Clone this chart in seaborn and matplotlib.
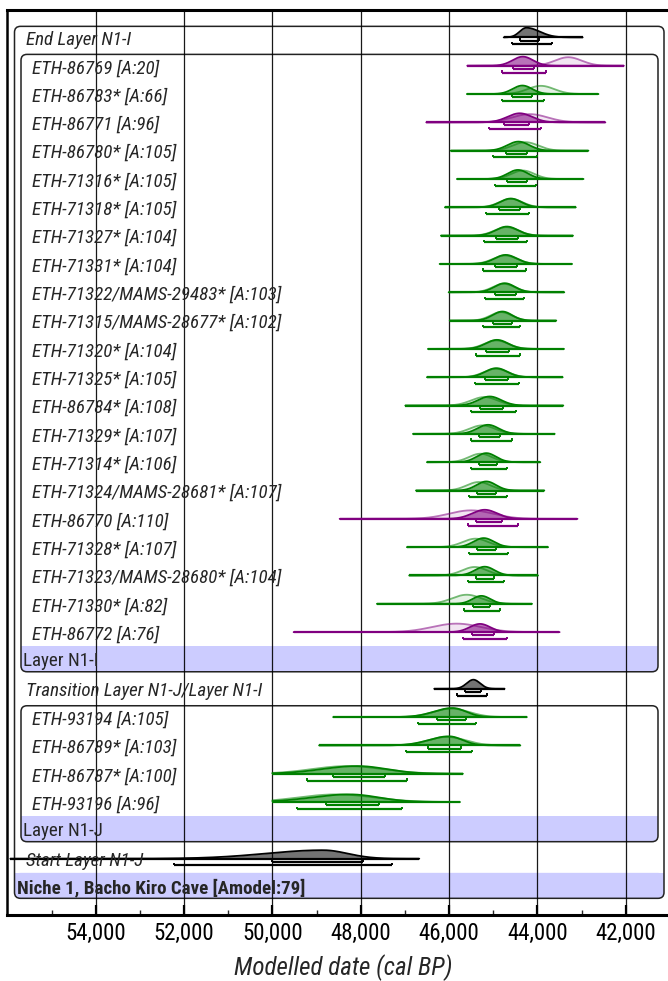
import numpy as np
import pandas as pd
import matplotlib
matplotlib.use("Agg")
import matplotlib.pyplot as plt
import matplotlib.transforms as mtransforms
from matplotlib import font_manager as fm
from matplotlib.patches import FancyBboxPatch, Rectangle
from matplotlib.ticker import MultipleLocator, FixedLocator, FuncFormatter
import seaborn as sns

# ---------------- data (years cal BP) ----------------
labels = [
    "End Layer N1-I",
    "ETH-86769 [A:20]", "ETH-86783* [A:66]", "ETH-86771 [A:96]", "ETH-86780* [A:105]",
    "ETH-71316* [A:105]", "ETH-71318* [A:105]", "ETH-71327* [A:104]", "ETH-71331* [A:104]",
    "ETH-71322/MAMS-29483* [A:103]", "ETH-71315/MAMS-28677* [A:102]", "ETH-71320* [A:104]",
    "ETH-71325* [A:105]", "ETH-86784* [A:108]", "ETH-71329* [A:107]", "ETH-71314* [A:106]",
    "ETH-71324/MAMS-28681* [A:107]", "ETH-86770 [A:110]", "ETH-71328* [A:107]",
    "ETH-71323/MAMS-28680* [A:104]", "ETH-71330* [A:82]", "ETH-86772 [A:76]",
    "Layer N1-I",
    "Transition Layer N1-J/Layer N1-I",
    "ETH-93194 [A:105]", "ETH-86789* [A:103]", "ETH-86787* [A:100]", "ETH-93196 [A:96]",
    "Layer N1-J",
    "Start Layer N1-J",
    "Niche 1, Bacho Kiro Cave [Amodel:79]",
]
row_kind = (["boundary"] + ["date"] * 21 + ["band"] + ["boundary"] + ["date"] * 4
            + ["band"] + ["boundary"] + ["outerband"])
row_colour = (["k", "p", "g", "p"] + ["g"] * 13 + ["p", "g", "g", "g", "p"] + [None]
              + ["k", "g", "g", "g", "g", None, "k", None])

nan = np.nan
post_mu = [44250, 44330, 44340, 44400, 44430, 44440, 44604, 44690, 44718, 44740, 44794,
           44915, 44930, 45080, 45118, 45157, 45157, 45193, 45216, 45193, 45268, 45300,
           nan, 45449, 45920, 46000, 48070, 48250, nan, 48850, nan]
post_sd_old = [150, 230, 220, 280, 250, 230, 240, 250, 250, 230, 220,
               250, 250, 260, 240, 220, 220, 280, 230, 220, 200, 230,
               nan, 150, 420, 450, 800, 850, nan, 1300, nan]
post_sd_young = [300, 230, 220, 280, 250, 230, 240, 250, 250, 230, 220,
                 250, 250, 260, 240, 220, 220, 280, 230, 220, 200, 230,
                 nan, 150, 300, 300, 650, 650, nan, 550, nan]
post_peak = [0.34, 0.32, 0.30, 0.32, 0.32, 0.32, 0.31, 0.32, 0.32, 0.32, 0.32,
             0.32, 0.32, 0.32, 0.32, 0.32, 0.32, 0.32, 0.32, 0.31, 0.28, 0.29,
             nan, 0.32, 0.32, 0.32, 0.27, 0.27, nan, 0.30, nan]
lik_mu = [nan, 43300, 43920, 44170, 44270, 44330, 44600, 44700, 44730, 44760, 44820,
          44930, 44940, 45200, 45250, 45290, 45330, 45500, 45400, 45420, 45600, 45830,
          nan, nan, 45950, 46050, 48300, 48550, nan, nan, nan]
lik_sd = [nan, 300, 300, 400, 290, 260, 260, 270, 270, 250, 240,
          270, 270, 300, 290, 260, 270, 500, 290, 280, 330, 550,
          nan, nan, 400, 420, 800, 850, nan, nan, nan]
lik_peak = [nan, 0.30, 0.29, 0.29, 0.30, 0.30, 0.30, 0.30, 0.30, 0.30, 0.30,
            0.30, 0.30, 0.30, 0.30, 0.30, 0.30, 0.30, 0.30, 0.30, 0.32, 0.30,
            nan, nan, 0.30, 0.30, 0.27, 0.27, nan, nan, nan]
line_old = [44763, 45585, 45594, 46513, 45963, 45820, 46092, 46183, 46212, 46008, 45985,
            46476, 46499, 46988, 46815, 46499, 46747, 48476, 46952, 46900, 47631, 49518,
            nan, 46336, 48621, 48940, 50000, 50000, nan, 55933, nan]
line_young = [42975, 42046, 42619, 42462, 42846, 42958, 43133, 43196, 43217, 43392, 43573,
              43400, 43430, 43414, 43611, 43934, 43844, 43094, 43760, 43988, 44124, 43500,
              nan, 44743, 44242, 44387, 45690, 45755, nan, 46674, nan]
r68_old = [44400, 44552, 44568, 44756, 44704, 44695, 44876, 44944, 44966, 44959, 45012,
           45166, 45189, 45307, 45330, 45330, 45360, 45381, 45366, 45397, 45460, 45472,
           nan, 45632, 46269, 46483, 48621, 48793, nan, 50002, nan]
r68_young = [43965, 44077, 44115, 44190, 44228, 44243, 44394, 44439, 44455, 44491, 44568,
             44645, 44675, 44781, 44854, 44915, 44930, 44794, 44930, 44983, 45080, 44990,
             nan, 45272, 45612, 45729, 47444, 47588, nan, 47957, nan]
r95_old = [44575, 44800, 44794, 45102, 44995, 44953, 45158, 45212, 45231, 45189, 45231,
           45384, 45407, 45504, 45510, 45510, 45549, 45573, 45555, 45573, 45663, 45685,
           nan, 45825, 46704, 46967, 49209, 49436, nan, 52218, nan]
r95_young = [43660, 43797, 43857, 43925, 44000, 44024, 44184, 44235, 44250, 44303, 44386,
             44400, 44423, 44491, 44575, 44690, 44681, 44439, 44666, 44762, 44854, 44681,
             nan, 45130, 45401, 45487, 46943, 47061, nan, 47298, nan]

major_ticks = [54000, 52000, 50000, 48000, 46000, 44000, 42000]
minor_ticks = [55000, 53000, 51000, 49000, 47000, 45000, 43000, 41000]
x_label = "Modelled date (cal BP)"

# ---------------- style ----------------
sns.set_theme(style="white")
names = {f.name for f in fm.fontManager.ttflist}
fam = [f for f in ["Liberation Sans Narrow", "Roboto Condensed", "DejaVu Sans"] if f in names]
plt.rcParams["font.family"] = fam + ["DejaVu Sans"]

COL = {"g": "#008000", "p": "#800080", "k": "#000000"}
FILL_A = {"g": 0.55, "p": 0.55, "k": 0.55}
BAND = "#ccccff"

W, H = 668, 981
fig = plt.figure(figsize=(W / 100, H / 100), dpi=100)
ax_left_px, ax_w_px = 7.4, 671.3
ax_top_px, ax_bot_px = 9.5, 915.0
ax = fig.add_axes([ax_left_px / W, 1 - ax_bot_px / H, ax_w_px / W, (ax_bot_px - ax_top_px) / H])

n = len(labels)
rows = np.arange(n)
row0_px, row_step = 37.4, 28.32
y_top = (ax_top_px - row0_px) / row_step
y_bot = (ax_bot_px - row0_px) / row_step


def px2ax(px):
    return (px - ax_left_px) / ax_w_px


# ---------------- curves ----------------
post_records, lik_records = [], []
for i in rows:
    c = row_colour[i]
    if c is None:
        continue
    xs = np.linspace(line_old[i], line_young[i], 500)
    mu = post_mu[i]
    sd = np.where(xs > mu, post_sd_old[i], post_sd_young[i])
    yv = i - post_peak[i] * np.exp(-0.5 * ((xs - mu) / sd) ** 2)
    ax.fill_between(xs, i, yv, color=COL[c], alpha=FILL_A[c], lw=0, zorder=2)
    for a, b in zip(xs, yv):
        post_records.append((a, b, i, c))
    if not np.isnan(lik_mu[i]):
        ly = i - lik_peak[i] * np.exp(-0.5 * ((xs - lik_mu[i]) / lik_sd[i]) ** 2)
        ax.fill_between(xs, i, ly, color=COL[c], alpha=0.10, lw=0, zorder=2.2)
        for a, b in zip(xs, ly):
            lik_records.append((a, b, i, c))

post_df = pd.DataFrame(post_records, columns=["x", "y", "row", "col"])
lik_df = pd.DataFrame(lik_records, columns=["x", "y", "row", "col"])
sns.lineplot(data=post_df, x="x", y="y", units="row", estimator=None, sort=False,
             hue="col", palette=COL, legend=False, lw=1.3, ax=ax, zorder=2.1)
sns.lineplot(data=lik_df, x="x", y="y", units="row", estimator=None, sort=False,
             hue="col", palette=COL, legend=False, lw=1.3, alpha=0.55, ax=ax, zorder=2.3)

# baselines and ranges
for i in rows:
    c = row_colour[i]
    if c is None:
        continue
    col = COL[c]
    ax.hlines(i, line_old[i], line_young[i], color=col, lw=1.6, zorder=2.4)
    for lo, hi, off in ((r68_old[i], r68_young[i], 0.11), (r95_old[i], r95_young[i], 0.24)):
        ax.hlines(i + off, lo, hi, color=col, lw=1.6, zorder=2.4)
        ax.vlines([lo, hi], i + off - 0.08, i + off, color=col, lw=1.4, zorder=2.4)

# ---------------- boxes and bands ----------------
btr = mtransforms.blended_transform_factory(ax.transAxes, ax.transData)
r_x = 6 / ax_w_px
asp = (6 / row_step) / r_x


def rbox(x0px, x1px, y0, y1, face="none", z=1.0, lw=1.1):
    p = FancyBboxPatch((px2ax(x0px), y0), px2ax(x1px) - px2ax(x0px), y1 - y0,
                       boxstyle=f"round,pad=0,rounding_size={r_x}", mutation_aspect=asp,
                       transform=btr, facecolor=face, edgecolor="#222222", lw=lw, zorder=z,
                       clip_on=False)
    ax.add_patch(p)


def band(x0px, x1px, yc):
    y0, y1 = yc - 0.5, yc + 0.4
    p = FancyBboxPatch((px2ax(x0px), y0), px2ax(x1px) - px2ax(x0px), y1 - y0,
                       boxstyle=f"round,pad=0,rounding_size={r_x}", mutation_aspect=asp,
                       transform=btr, facecolor=BAND, edgecolor="none", zorder=0.8)
    ax.add_patch(p)
    ax.add_patch(Rectangle((px2ax(x0px), y0), px2ax(x1px) - px2ax(x0px), 0.45,
                           transform=btr, facecolor=BAND, edgecolor="none", zorder=0.8))


for i in rows:
    if row_kind[i] == "band":
        band(21, 658, i)
    elif row_kind[i] == "outerband":
        band(14.5, 664, i)

rbox(14.5, 664, -0.39, 30.4)
rbox(21, 658, 0.6, 22.4)
rbox(21, 658, 23.6, 28.4)

# ---------------- labels ----------------
FS = 13.7
for i in rows:
    k = row_kind[i]
    if k == "boundary":
        ax.text(px2ax(25.5), i + 0.09, labels[i], transform=btr, ha="left", va="center",
                fontsize=FS, style="italic", zorder=3)
    elif k == "date":
        ax.text(px2ax(32), i + 0.09, labels[i], transform=btr, ha="left", va="center",
                fontsize=FS, style="italic", zorder=3)
    elif k == "band":
        ax.text(px2ax(23), i + 0.03, labels[i], transform=btr, ha="left", va="center",
                fontsize=FS, zorder=3)
    else:
        ax.text(px2ax(17), i + 0.03, labels[i], transform=btr, ha="left", va="center",
                fontsize=FS, fontweight="bold", zorder=3)

# ---------------- axes ----------------
ax.set_xlim(56000, 56000 - ax_w_px * 22.642)
ax.set_ylim(y_bot, y_top)
ax.set_yticks([])
ax.set_ylabel("")
ax.xaxis.set_major_locator(FixedLocator(major_ticks))
ax.xaxis.set_minor_locator(FixedLocator(minor_ticks))
ax.xaxis.set_major_formatter(FuncFormatter(lambda v, p: f"{v:,.0f}"))
ax.tick_params(axis="x", which="major", direction="in", length=7, width=1.6,
               labelsize=16.5, pad=5, bottom=True, top=False, colors="black")
ax.tick_params(axis="x", which="minor", direction="in", length=3.6, width=1.0,
               bottom=True, top=False)
ax.set_xlabel(x_label, fontsize=18, style="italic", labelpad=7)
for s, lw in (("top", 2.2), ("bottom", 2.2), ("left", 1.8), ("right", 1.0)):
    ax.spines[s].set_linewidth(lw)
    ax.spines[s].set_color("black")
ax.vlines(major_ticks, y_bot, y_top, color="black", lw=0.9, alpha=0.9, zorder=1.5)

fig.savefig("out.png", dpi=100)
